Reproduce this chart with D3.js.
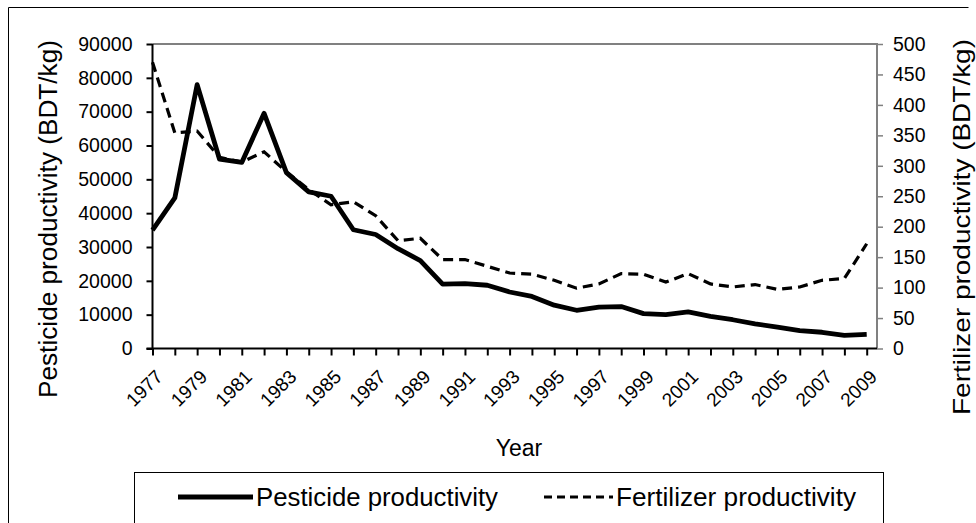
<!DOCTYPE html>
<html>
<head>
<meta charset="utf-8">
<script src="https://cdn.jsdelivr.net/npm/d3@7"></script>
<style>
  body { margin: 0; background: #fff; }
  svg { font-family: "Liberation Sans", Arial, sans-serif; }
</style>
</head>
<body>
<div id="chart"></div>
<script>
const years = d3.range(1977, 2010);
const pesticide = [35000, 44500, 78000, 56000, 55000, 69500, 52000, 46300, 45000, 35100, 33700,
  29500, 26000, 19000, 19200, 18700, 16700, 15400, 12800, 11300, 12200, 12400,
  10300, 10000, 10800, 9500, 8500, 7300, 6300, 5300, 4800, 3900, 4200];
const fertilizer = [470, 354, 357, 314, 306, 323, 290, 261, 236, 241, 218,
  177, 181, 146, 146, 135, 124, 122, 112, 99, 106, 123,
  122, 109, 123, 106, 101, 105, 97, 101, 112, 115, 172];
const leftTicks = d3.range(0, 90001, 10000);
const rightTicks = d3.range(0, 501, 50);
const labelYears = years.filter(y => (y - 1977) % 2 === 0);

const W = 976, H = 523;
const plot = { left: 152.5, right: 877, top: 44, bottom: 348.5 };

const svg = d3.select("#chart").append("svg").attr("width", W).attr("height", H);

// outer frame (left and top edges visible)
svg.append("path").attr("d", "M8.5,523V7.5H968.5").attr("fill", "none").attr("stroke", "#000").attr("stroke-width", 1);

const x = d3.scalePoint().domain(years).range([plot.left, 866.7]);
const yL = d3.scaleLinear().domain([0, 90000]).range([plot.bottom, plot.top]);
const yR = d3.scaleLinear().domain([0, 500]).range([plot.bottom, plot.top]);

// plot border (grey top/right)
svg.append("path")
  .attr("d", `M${plot.left},${plot.top}H${plot.right}V${plot.bottom}`)
  .attr("fill", "none").attr("stroke", "#808080").attr("stroke-width", 2);

// left axis
const gl = svg.append("g").attr("transform", `translate(${plot.left},0)`)
  .call(d3.axisLeft(yL).tickValues(leftTicks).tickSize(6).tickPadding(14).tickFormat(d3.format("d")));
gl.select(".domain").attr("stroke-width", 2).attr("d", `M0,${plot.top}V${plot.bottom}`);
gl.selectAll(".tick line").attr("stroke-width", 2);
gl.selectAll("text").attr("font-size", 19.5).attr("fill", "#000").attr("font-family", "Liberation Sans, Arial, sans-serif");

// right axis
const gr = svg.append("g").attr("transform", `translate(${plot.right},0)`)
  .call(d3.axisRight(yR).tickValues(rightTicks).tickSize(6).tickPadding(10));
gr.select(".domain").attr("stroke", "#808080").attr("stroke-width", 2).attr("d", `M0,${plot.top}V${plot.bottom}`);
gr.selectAll(".tick line").attr("stroke", "#808080").attr("stroke-width", 1.5);
gr.selectAll("text").attr("font-size", 19.5).attr("fill", "#000").attr("font-family", "Liberation Sans, Arial, sans-serif");

// bottom axis
const gb = svg.append("g").attr("transform", `translate(0,${plot.bottom})`)
  .call(d3.axisBottom(x).tickSize(7).tickFormat(""));
gb.select(".domain").attr("stroke-width", 2).attr("d", `M${plot.left - 6},0H${plot.right}`);
gb.selectAll(".tick line").attr("stroke-width", 2);

svg.append("g").selectAll("text").data(labelYears).join("text")
  .attr("transform", d => `translate(${x(d) + 2},${plot.bottom + 20}) rotate(-45)`)
  .attr("text-anchor", "end").attr("dy", "0.7em")
  .attr("font-size", 19).text(d => d);

// lines
const linePest = d3.line().x((d, i) => x(years[i])).y(d => yL(d));
const lineFert = d3.line().x((d, i) => x(years[i])).y(d => yR(d));

svg.append("path").datum(fertilizer).attr("d", lineFert)
  .attr("fill", "none").attr("stroke", "#000").attr("stroke-width", 3.2)
  .attr("stroke-dasharray", "10,6");
svg.append("path").datum(pesticide).attr("d", linePest)
  .attr("fill", "none").attr("stroke", "#000").attr("stroke-width", 4.8)
  .attr("stroke-linejoin", "round");

// axis titles
svg.append("text").attr("transform", "translate(57,219) rotate(-90)")
  .attr("text-anchor", "middle").attr("font-size", 25)
  .attr("textLength", 358).attr("lengthAdjust", "spacingAndGlyphs")
  .text("Pesticide productivity (BDT/kg)");
svg.append("text").attr("transform", "translate(970,227) rotate(-90)")
  .attr("text-anchor", "middle").attr("font-size", 24)
  .attr("textLength", 376).attr("lengthAdjust", "spacingAndGlyphs")
  .text("Fertilizer productivity (BDT/kg)");
svg.append("text").attr("x", 519).attr("y", 456).attr("text-anchor", "middle")
  .attr("font-size", 23).text("Year");

// legend
const legend = svg.append("g");
legend.append("rect").attr("x", 134.5).attr("y", 472.5).attr("width", 749).attr("height", 70)
  .attr("fill", "none").attr("stroke", "#000").attr("stroke-width", 1);
const items = [
  { label: "Pesticide productivity", x0: 178, x1: 253, dash: null, w: 4.8, len: 242 },
  { label: "Fertilizer productivity", x0: 544, x1: 613, dash: "8,5", w: 3.2, len: 240 }
];
items.forEach(it => {
  legend.append("line").attr("x1", it.x0).attr("x2", it.x1).attr("y1", 497).attr("y2", 497)
    .attr("stroke", "#000").attr("stroke-width", it.w).attr("stroke-dasharray", it.dash);
  legend.append("text").attr("x", it.x1 + 3).attr("y", 506).attr("font-size", 25)
    .attr("textLength", it.len).attr("lengthAdjust", "spacingAndGlyphs").text(it.label);
});
</script>
</body>
</html>
